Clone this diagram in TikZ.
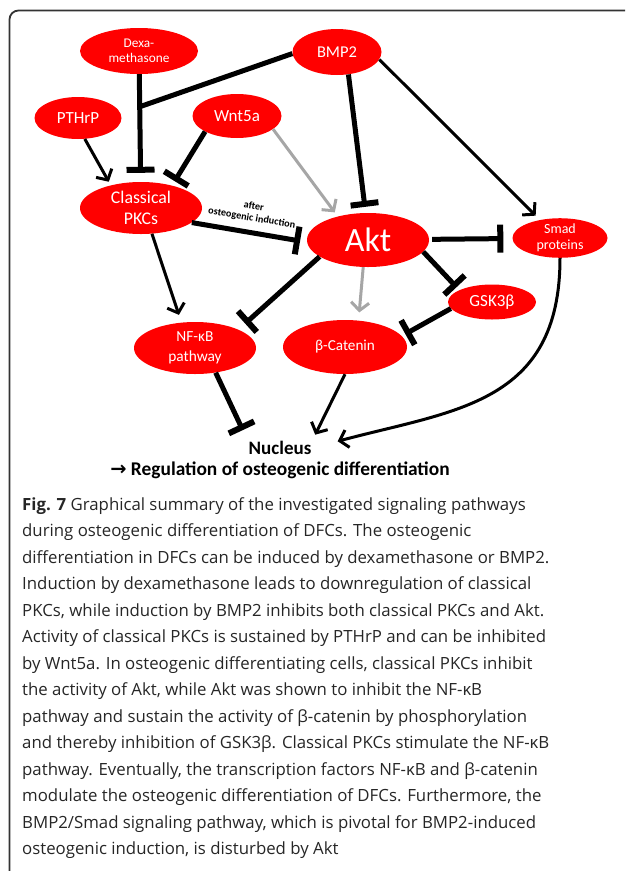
\documentclass[tikz,border=0pt]{standalone}
\usepackage{fontspec}
\setmainfont{Carlito}
\newfontfamily\capfont{Open Sans}
\newfontfamily\arrfont{DejaVu Sans}
\usepackage{tikz}
\usetikzlibrary{arrows.meta,shapes.geometric}

\begin{document}
\begin{tikzpicture}[x=1pt,y=-1pt,
            mol/.style={ellipse, fill=red, text=white, inner sep=0pt, align=center},
            inh/.style={line width=5pt, -{Bar[width=28pt,line width=6pt]}},
            act/.style={line width=3pt, -{Straight Barb[length=8pt,width=18pt]}},
            gact/.style={act, draw=black!35},
            lbl/.style={inner sep=1pt, font=\bfseries\fontsize{19}{20}\selectfont}]
            \useasboundingbox (0,0) rectangle (625,871);
            \clip (0,0) rectangle (625,871);
            \draw [black!80, line width=1.8pt, rounded corners=9pt] (9.5,10.5) rectangle (660,880);
            \node [mol, minimum width=118pt, minimum height=46pt, font=\fontsize{13.3}{15}\selectfont] (dexa) at (139,51) {Dexa-\\methasone};
            \node [mol, minimum width=89pt, minimum height=46pt, font=\fontsize{16.5}{18}\selectfont] (bmp) at (337,52) {BMP2};
            \node [mol, minimum width=87pt, minimum height=42pt, font=\fontsize{17}{18}\selectfont] (pthrp) at (78,118) {PTHrP};
            \node [mol, minimum width=89pt, minimum height=44pt, font=\fontsize{17}{18}\selectfont] (wnt) at (237,116) {Wnt5a};
            \node [mol, minimum width=122pt, minimum height=52pt, font=\fontsize{17.8}{21}\selectfont] (pkc) at (141,208) {Classical\\PKCs};
            \node [mol, minimum width=122pt, minimum height=54pt, font=\fontsize{34}{36}\selectfont] (akt) at (368,240) {Akt};
            \node [mol, minimum width=95pt, minimum height=37pt, font=\fontsize{14}{16}\selectfont] (smad) at (560,238) {Smad\\proteins};
            \node [mol, minimum width=88pt, minimum height=35pt, font=\fontsize{17}{18}\selectfont] (gsk) at (492,302) {GSK3β};
            \node [mol, minimum width=122pt, minimum height=52pt, font=\fontsize{15.4}{20}\selectfont] (nfkb) at (195,348) {NF-κB\\pathway};
            \node [mol, minimum width=124pt, minimum height=54pt, font=\fontsize{15.2}{17}\selectfont] (bcat) at (345,347) {β-Catenin};
            \node [lbl] (nucleus) at (280,448) {Nucleus};
            \node [lbl, font=\bfseries\fontsize{19.4}{20}\selectfont] (regul) at (280,470) {{\arrfont →} Regulation of osteogenic differentiation};
            \coordinate (jn) at (139,107);
            \draw [inh, shorten >=9pt] (dexa) -- (pkc);
            \draw [line width=5pt] (bmp.182) -- (jn);
            \draw [act, shorten >=4pt] (pthrp.-72) -- (pkc.143);
            \draw [inh, shorten >=5pt] (wnt.-154) -- (pkc.36);
            \draw [gact, shorten >=5pt] (wnt.-20) -- (akt.142);
            \draw [inh, shorten >=6pt] (bmp.-63) -- (akt.95);
            \draw [act, shorten >=6pt] (bmp.-10) -- (smad.138);
            \draw [inh, shorten >=7pt] (pkc.-16) -- (akt.182)
                node [midway, above=4pt, sloped, align=center, font=\bfseries\fontsize{10.2}{12}\selectfont] {after\\osteogenic induction};
            \draw [inh, shorten >=9pt, shorten <=3pt] (akt) -- (smad);
            \draw [inh, shorten >=4pt] (akt.-12) -- (gsk.160);
            \draw [inh, shorten >=9pt] (akt.199) -- (nfkb.23);
            \draw [gact, shorten >=8pt] (akt.-100) -- (bcat.63);
            \draw [inh, shorten >=4pt] (gsk.189) -- (bcat.11);
            \draw [act, shorten >=8pt] (pkc.-67) -- (nfkb.118);
            \draw [inh, shorten >=11pt] (nfkb.-50) -- (nucleus.north west);
            \draw [act, shorten >=6pt] (bcat.-90) -- (nucleus.north east);
            \draw [act, shorten >=26pt] (smad.-90) to [out=-90, in=15, looseness=1.2] (nucleus.east);
            \node [anchor=north west, align=left, inner sep=0pt, text=black!85, font=\capfont\fontsize{16.8}{26.5}\selectfont] (caption) at (22,497)
                {\textbf{Fig. 7} Graphical summary of the investigated signaling pathways\\
                during osteogenic differentiation of DFCs. The osteogenic\\
                differentiation in DFCs can be induced by dexamethasone or BMP2.\\
                Induction by dexamethasone leads to downregulation of classical\\
                PKCs, while induction by BMP2 inhibits both classical PKCs and Akt.\\
                Activity of classical PKCs is sustained by PTHrP and can be inhibited\\
                by Wnt5a. In osteogenic differentiating cells, classical PKCs inhibit\\
                the activity of Akt, while Akt was shown to inhibit the NF-κB\\
                pathway and sustain the activity of β-catenin by phosphorylation\\
                and thereby inhibition of GSK3β. Classical PKCs stimulate the NF-κB\\
                pathway. Eventually, the transcription factors NF-κB and β-catenin\\
                modulate the osteogenic differentiation of DFCs. Furthermore, the\\
                BMP2/Smad signaling pathway, which is pivotal for BMP2-induced\\
                osteogenic induction, is disturbed by Akt};
            \end{tikzpicture}
\end{document}
